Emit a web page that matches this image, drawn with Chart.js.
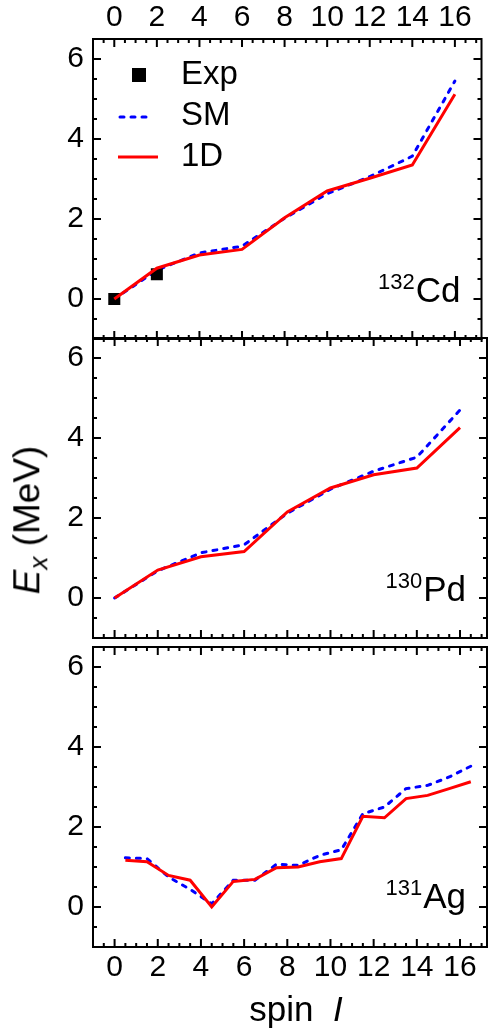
<!DOCTYPE html>
<html>
<head>
<meta charset="utf-8">
<script src="https://cdn.jsdelivr.net/npm/chart.js@4"></script>
<style>
  body { margin:0; background:#fff; width:490px; height:1029px; overflow:hidden; position:relative; font-family:"Liberation Sans", Arial, sans-serif; }
  canvas { position:absolute; left:0; top:0; }
  .lab { position:absolute; white-space:nowrap; font-size:35px; color:#000; line-height:1; }
</style>
</head>
<body>
<canvas id="c1" width="490" height="1029"></canvas>
<canvas id="c2" width="490" height="1029"></canvas>
<canvas id="c3" width="490" height="1029"></canvas>
<div class="lab" style="left:30px; top:520px; font-size:37px; transform:translate(-50%,-50%) rotate(-90deg);"><i>E</i><sub style="font-size:26px;"><i>x</i></sub> (MeV)</div>
<div class="lab" style="left:296px; top:1008px; transform:translate(-50%,-50%);">spin&nbsp; <i>I</i></div>
<script>
const FONT = '"Liberation Sans", Arial, sans-serif';

// spins
const spinEven = [0, 2, 4, 6, 8, 10, 12, 14, 16];
const spinHalf = [0.5, 1.5, 2.5, 3.5, 4.5, 5.5, 6.5, 7.5, 8.5, 9.5, 10.5, 11.5, 12.5, 13.5, 14.5, 15.5, 16.5];

// 132Cd
const cdExpSpin = [0, 2];
const cdExp = [0, 0.62];
const cdSM = [0, 0.72, 1.15, 1.32, 2.02, 2.63, 3.06, 3.57, 5.45];
const cd1D = [0, 0.77, 1.10, 1.24, 2.03, 2.70, 3.02, 3.35, 5.12];

// 130Pd
const pdSM = [0, 0.68, 1.13, 1.33, 2.12, 2.72, 3.17, 3.52, 4.70];
const pd1D = [0, 0.70, 1.03, 1.16, 2.15, 2.75, 3.08, 3.25, 4.26];

// 131Ag
const agSM = [1.23, 1.21, 0.75, 0.44, 0.08, 0.67, 0.67, 1.07, 1.04, 1.29, 1.43, 2.33, 2.50, 2.96, 3.04, 3.25, 3.52];
const ag1D = [1.17, 1.13, 0.79, 0.67, 0, 0.64, 0.69, 0.98, 1.00, 1.13, 1.21, 2.27, 2.23, 2.71, 2.79, 2.96, 3.13];

const pts = (xs, ys) => xs.map((x, i) => ({x: x, y: ys[i]}));

const lineSM = d => ({data: d, borderColor: '#0000ff', borderWidth: 3, borderDash: [4, 7], borderCapStyle: 'round', pointRadius: 0, order: 2});
const line1D = d => ({data: d, borderColor: '#ff0000', borderWidth: 3, pointRadius: 0, order: 0});
const expPts = d => ({data: d, showLine: false, pointStyle: 'rect', pointRadius: 8.5, backgroundColor: '#000', borderWidth: 0, order: 1});

// frame, inward ticks, nucleus label
function decor(mass, sym, base, legend) {
  return {
    id: 'decor',
    afterDraw(chart) {
      const {ctx, chartArea: a, scales: {x, y}} = chart;
      ctx.save();
      ctx.strokeStyle = '#000';
      ctx.lineWidth = 2;
      ctx.strokeRect(a.left, a.top, a.right - a.left, a.bottom - a.top);
      ctx.beginPath();
      for (let v = -0.5; v <= 17; v += 0.5) {
        const p = x.getPixelForValue(v), len = v % 2 === 0 ? 8 : 4;
        ctx.moveTo(p, a.bottom); ctx.lineTo(p, a.bottom - len);
        ctx.moveTo(p, a.top); ctx.lineTo(p, a.top + len);
      }
      for (let v = -0.5; v <= 6; v += 0.5) {
        const p = y.getPixelForValue(v), len = v % 2 === 0 ? 8 : 4;
        ctx.moveTo(a.left, p); ctx.lineTo(a.left + len, p);
        ctx.moveTo(a.right, p); ctx.lineTo(a.right - len, p);
      }
      ctx.stroke();

      // nucleus
      ctx.fillStyle = '#000';
      ctx.textAlign = 'right';
      ctx.textBaseline = 'alphabetic';
      ctx.font = '35px ' + FONT;
      const right = a.right - 21;
      const w = ctx.measureText(sym).width;
      ctx.fillText(sym, right, base);
      ctx.font = '22px ' + FONT;
      ctx.fillText(mass, right - w - 1, base - 13);

      if (legend) {
        ctx.fillRect(132, 68, 14, 14);
        ctx.lineWidth = 3;
        ctx.strokeStyle = '#0000ff';
        ctx.lineCap = 'round';
        ctx.setLineDash([4, 7]);
        ctx.beginPath(); ctx.moveTo(120, 117); ctx.lineTo(152, 117); ctx.stroke();
        ctx.setLineDash([]);
        ctx.lineCap = 'butt';
        ctx.strokeStyle = '#ff0000';
        ctx.beginPath(); ctx.moveTo(118, 157); ctx.lineTo(158, 157); ctx.stroke();
        ctx.font = '33px ' + FONT;
        ctx.textAlign = 'left';
        ctx.textBaseline = 'middle';
        ctx.fillText('Exp', 181, 75);
        ctx.fillText('SM', 181, 116);
        ctx.fillText('1D', 181, 157);
      }
      ctx.restore();
    }
  };
}

function panel(id, datasets, xPos, xSize, pad, label) {
  return new Chart(document.getElementById(id), {
    type: 'line',
    data: {datasets: datasets},
    options: {
      responsive: false, animation: false, devicePixelRatio: 1,
      layout: {padding: pad},
      plugins: {legend: {display: false}, tooltip: {enabled: false}},
      scales: {
        x: {
          type: 'linear', position: xPos || 'bottom', display: !!xPos,
          min: -1, max: 17.25,
          grid: {display: false, drawTicks: false}, border: {display: false},
          ticks: {stepSize: 2, includeBounds: false, padding: 3, maxRotation: 0, autoSkip: false,
                  color: '#000', font: {family: FONT, size: 30}},
          afterFit: s => { s.height = xSize; }
        },
        y: {
          min: -1, max: 6.5,
          grid: {display: false, drawTicks: false}, border: {display: false},
          ticks: {stepSize: 2, includeBounds: false, padding: 9,
                  color: '#000', font: {family: FONT, size: 30}},
          afterFit: s => { s.width = 93; }
        }
      }
    },
    plugins: [label]
  });
}

panel('c1',
  [line1D(pts(spinEven, cd1D)), lineSM(pts(spinEven, cdSM)), expPts(pts(cdExpSpin, cdExp))],
  'top', 39, {left: 0, right: 3, top: 0, bottom: 690},
  decor('132', 'Cd', 302, true));

panel('c2',
  [line1D(pts(spinEven, pd1D)), lineSM(pts(spinEven, pdSM))],
  null, 0, {left: 0, right: 3, top: 338, bottom: 391},
  decor('130', 'Pd', 601, false));

panel('c3',
  [line1D(pts(spinHalf, ag1D)), lineSM(pts(spinHalf, agSM))],
  'bottom', 82, {left: 0, right: 3, top: 647, bottom: 0},
  decor('131', 'Ag', 908, false));
</script>
</body>
</html>
